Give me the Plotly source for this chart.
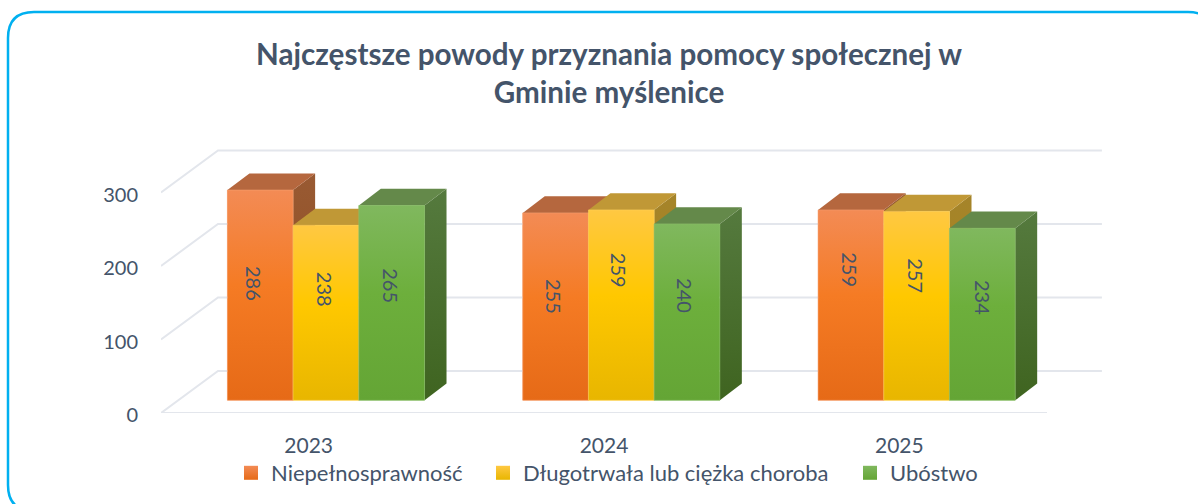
import plotly.graph_objects as go

YEARS = ["2023", "2024", "2025"]
NAMES = ["Niepełnosprawność", "Długotrwała lub ciężka choroba", "Ubóstwo"]
NIEPELNOSPRAWNOSC = [286, 255, 259]
CHOROBA = [238, 259, 257]
UBOSTWO = [265, 240, 234]
SERIES = [NIEPELNOSPRAWNOSC, CHOROBA, UBOSTWO]
Y_TICKS = [0, 100, 200, 300]

# label nudges (px) relative to bar centre: series -> year
LABEL_DX = [[-6, -1, -1], [-1, -2, 0], [-1, -2, 0]]
LABEL_DY = [[12, 10, 35], [23, 35, 30], [17, 17, 17]]

FRONT = [["#E66A17", "#F57B24", "#F38B55"], ["#E8B600", "#FFC800", "#FFC842"], ["#64A535", "#6DAF3C", "#80B85E"]]
SIDE = [["#8A4A1A", "#995A33"], ["#A88414", "#A5842A"], ["#3F6420", "#557A3E"]]
TOP = ["#B5673E", "#C09836", "#64894A"]
EDGE = ["#F6A070", "#FFD25A", "#8CC06A"]
TEXT = "#44546A"
GRID = "#E3E6EC"
FONT = "Lato"

# page geometry of the oblique projection
L, T, R, B = 161, 148, 93, 91
PX_X = 295.33
PX_Y = 0.735
W, H = 1198, 504
plot_w, plot_h = W - L - R, H - T - B
X_RANGE = [-0.5, -0.5 + plot_w / PX_X]
Y_RANGE = [0, plot_h / PX_Y]
WALL_DX, WALL_DY = 57 / PX_X, 42 / PX_Y       # floor depth
WALL_LEN = 2.993
BAR_SHIFT_X, BAR_LIFT = 17.3 / PX_X, 12.7 / PX_Y  # bar base on the floor
BAR_DX, BAR_DY = 22 / PX_X, 16.7 / PX_Y       # bar depth
BAR_W = 65.7 / PX_X

fig = go.Figure()


def stops(c):
    return [[0, c[0]], [0.55, c[1]], [1, c[2]]]


# gridlines on floor, wall
for t in Y_TICKS:
    xs = [X_RANGE[0], X_RANGE[0] + WALL_DX, X_RANGE[0] + WALL_DX + WALL_LEN]
    ys = [t, t + WALL_DY, t + WALL_DY]
    fig.add_trace(go.Scatter(x=xs, y=ys, mode="lines", line=dict(color=GRID, width=2),
                             showlegend=False, hoverinfo="skip", cliponaxis=False))
fig.add_trace(go.Scatter(x=[-0.5, 2.5], y=[0, 0], mode="lines", line=dict(color=GRID, width=2),
                         showlegend=False, hoverinfo="skip", cliponaxis=False))

for s, vals in enumerate(SERIES):
    xc = [i + BAR_SHIFT_X + (s - 1) * BAR_W for i in range(len(YEARS))]
    fig.add_trace(go.Bar(x=xc, y=vals, base=BAR_LIFT, width=BAR_W, marker=dict(color=FRONT[s][1], line=dict(width=0)),
                         showlegend=False, hoverinfo="skip"))

for s, vals in enumerate(SERIES):
    for i, v in enumerate(vals):
        xc = i + BAR_SHIFT_X + (s - 1) * BAR_W
        x0, x1 = xc - BAR_W / 2, xc + BAR_W / 2
        y0, y1 = BAR_LIFT, BAR_LIFT + v
        # right face
        fig.add_trace(go.Scatter(x=[x1, x1 + BAR_DX, x1 + BAR_DX, x1, x1],
                                 y=[y0, y0 + BAR_DY, y1 + BAR_DY, y1, y0],
                                 mode="lines", fill="toself", line=dict(width=0),
                                 fillgradient=dict(type="vertical", colorscale=[[0, SIDE[s][0]], [1, SIDE[s][1]]]),
                                 showlegend=False, hoverinfo="skip", cliponaxis=False))
        # top face
        fig.add_trace(go.Scatter(x=[x0, x1, x1 + BAR_DX, x0 + BAR_DX, x0],
                                 y=[y1, y1, y1 + BAR_DY, y1 + BAR_DY, y1],
                                 mode="lines", fill="toself", fillcolor=TOP[s], line=dict(width=0),
                                 showlegend=False, hoverinfo="skip", cliponaxis=False))
        # front face
        fig.add_trace(go.Scatter(x=[x0, x1, x1, x0, x0], y=[y0, y0, y1, y1, y0],
                                 mode="lines", fill="toself", line=dict(color=EDGE[s], width=0.6),
                                 fillgradient=dict(type="vertical", colorscale=stops(FRONT[s])),
                                 showlegend=False, hoverinfo="skip", cliponaxis=False))
        fig.add_annotation(x=xc, y=BAR_LIFT + v / 2, xref="x", yref="y", text=str(v), showarrow=False,
                           textangle=90, xshift=LABEL_DX[s][i], yshift=LABEL_DY[s][i],
                           font=dict(family=FONT, size=20, color=TEXT))

# legend entries
LEG_X = [237, 489, 856]
legends = {}
for s, name in enumerate(NAMES):
    key = "legend" if s == 0 else f"legend{s + 1}"
    fig.add_trace(go.Scatter(x=[None], y=[None], mode="markers", name=name, legend=key,
                             marker=dict(symbol="square", size=14, color=FRONT[s][2],
                                         gradient=dict(type="vertical", color=FRONT[s][0]), line=dict(width=0))))
    legends[key] = dict(x=(LEG_X[s] - L) / plot_w, y=(413 - 473) / plot_h,
                        xanchor="left", yanchor="middle", orientation="h", bgcolor="rgba(0,0,0,0)",
                        indentation=-6, font=dict(family=FONT, size=22, color=TEXT))


# rounded card outline (runs off the page at right/bottom)
def px(x):
    return (x - L) / plot_w


def py(y):
    return (H - B - y) / plot_h


r = 26
CARD_L, CARD_T, CARD_R, CARD_B = 8, 12, 1214, 511
path = (f"M {px(CARD_L + r)} {py(CARD_B)} Q {px(CARD_L)} {py(CARD_B)} {px(CARD_L)} {py(CARD_B - r)} "
        f"L {px(CARD_L)} {py(CARD_T + r)} Q {px(CARD_L)} {py(CARD_T)} {px(CARD_L + r)} {py(CARD_T)} "
        f"L {px(CARD_R - r)} {py(CARD_T)} Q {px(CARD_R)} {py(CARD_T)} {px(CARD_R)} {py(CARD_T + r)}")

fig.update_layout(
    width=W, height=H, autosize=False,
    margin=dict(l=L, r=R, t=T, b=B, pad=0, autoexpand=False),
    paper_bgcolor="white", plot_bgcolor="rgba(0,0,0,0)",
    barmode="overlay",
    font=dict(family=FONT, color=TEXT),
    title=dict(text="Najczęstsze powody przyznania pomocy społecznej w<br>Gminie myślenice",
               x=609 / W, xref="container", xanchor="center", y=1 - 65 / H, yref="container", yanchor="middle",
               font=dict(family=FONT, size=29.6, color=TEXT, weight="bold")),
    xaxis=dict(range=X_RANGE, tickvals=[0, 1, 2], ticktext=YEARS, showgrid=False, zeroline=False, showline=False,
               ticks="outside", ticklen=14, tickcolor="rgba(0,0,0,0)", tickfont=dict(family=FONT, size=21, color=TEXT)),
    yaxis=dict(range=Y_RANGE, tickvals=Y_TICKS, showgrid=False, zeroline=False, showline=False,
               ticks="outside", ticklen=18, ticklabelshift=2, tickcolor="rgba(0,0,0,0)", tickfont=dict(family=FONT, size=20, color=TEXT)),
    shapes=[dict(type="path", path=path, xref="paper", yref="paper", line=dict(color="#00B0F0", width=2.5), layer="below")],
    **legends,
)

fig.write_html("out.html", config={"displayModeBar": False}, post_script="document.body.style.margin='0';")
